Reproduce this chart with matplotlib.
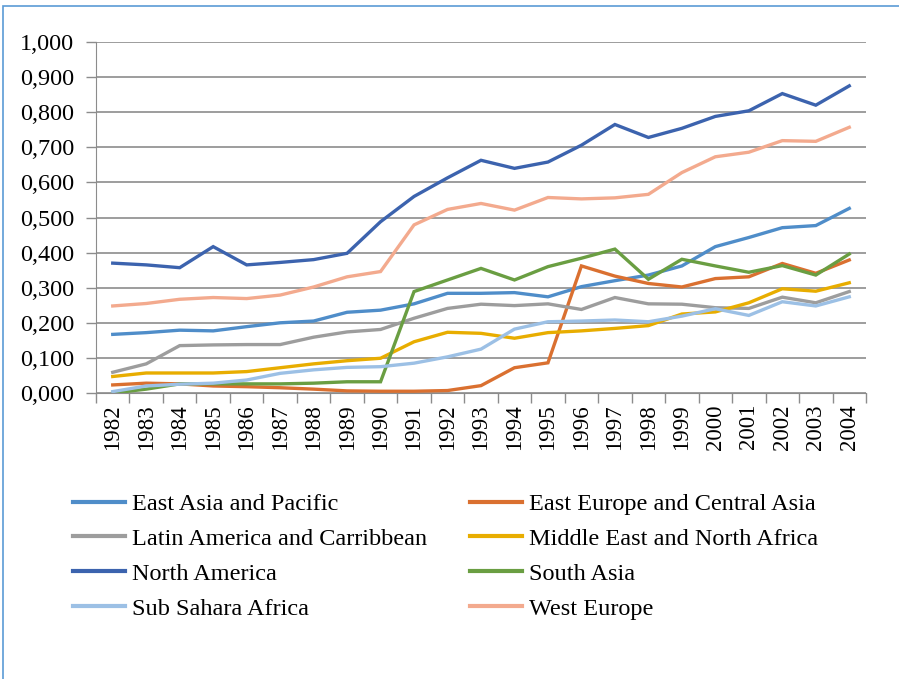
import matplotlib.pyplot as plt
import matplotlib.patches as mpatches
from matplotlib.ticker import FuncFormatter, FixedLocator
from matplotlib.lines import Line2D
import numpy as np

plt.rcParams['font.family'] = ['Liberation Serif', 'DejaVu Serif']

# data
years = list(range(1982, 2005))

east_asia = [0.167, 0.172, 0.179, 0.177, 0.189, 0.200, 0.205, 0.230, 0.236, 0.254, 0.284, 0.284,
             0.286, 0.274, 0.303, 0.320, 0.336, 0.362, 0.417, 0.443, 0.471, 0.477, 0.526]
east_europe = [0.023, 0.028, 0.026, 0.020, 0.018, 0.015, 0.011, 0.006, 0.005, 0.005, 0.007, 0.021,
               0.072, 0.086, 0.362, 0.333, 0.312, 0.302, 0.326, 0.331, 0.369, 0.341, 0.379]
latin_america = [0.059, 0.083, 0.135, 0.137, 0.138, 0.138, 0.159, 0.174, 0.181, 0.213, 0.241, 0.253,
                 0.249, 0.254, 0.238, 0.272, 0.254, 0.253, 0.243, 0.241, 0.273, 0.257, 0.289]
middle_east = [0.047, 0.057, 0.057, 0.057, 0.061, 0.072, 0.083, 0.092, 0.099, 0.146, 0.173, 0.170,
               0.156, 0.172, 0.177, 0.184, 0.192, 0.225, 0.231, 0.257, 0.297, 0.290, 0.314]
north_america = [0.370, 0.365, 0.357, 0.417, 0.365, 0.372, 0.380, 0.398, 0.488, 0.560, 0.613, 0.663,
                 0.640, 0.658, 0.706, 0.765, 0.728, 0.754, 0.788, 0.804, 0.853, 0.820, 0.875]
south_asia = [0.000, 0.011, 0.026, 0.026, 0.026, 0.026, 0.028, 0.032, 0.032, 0.289, 0.322, 0.355,
              0.322, 0.360, 0.384, 0.410, 0.324, 0.381, 0.362, 0.344, 0.363, 0.336, 0.396]
sub_sahara = [0.004, 0.020, 0.025, 0.028, 0.037, 0.056, 0.066, 0.073, 0.075, 0.085, 0.103, 0.125,
              0.182, 0.203, 0.205, 0.208, 0.203, 0.219, 0.240, 0.221, 0.260, 0.248, 0.274]
west_europe = [0.248, 0.255, 0.267, 0.272, 0.269, 0.279, 0.302, 0.331, 0.346, 0.479, 0.523, 0.540,
               0.521, 0.557, 0.553, 0.556, 0.566, 0.628, 0.673, 0.686, 0.719, 0.717, 0.757]

series = [
    ("East Asia and Pacific", east_asia, "#4f8dc9"),
    ("East Europe and Central Asia", east_europe, "#da7030"),
    ("Latin America and Carribbean", latin_america, "#9d9d9d"),
    ("Middle East and North Africa", middle_east, "#e8ad00"),
    ("North America", north_america, "#3c63ae"),
    ("South Asia", south_asia, "#6a9e42"),
    ("Sub Sahara Africa", sub_sahara, "#9cc0e5"),
    ("West Europe", west_europe, "#f3aa8e"),
]

fig = plt.figure(figsize=(8.99, 6.79), dpi=100)

# blue frame of the chart object (runs off the right and bottom edge)
fig.patches.append(mpatches.Rectangle((3 / 899, -0.1), 1.2, 1 - 6 / 679 + 0.1,
                                      transform=fig.transFigure, fill=False,
                                      edgecolor="#5b9bd5", linewidth=1.2))

ax = fig.add_axes([96 / 899, 1 - 393 / 679, 770 / 899, 351 / 679])
x = np.arange(len(years))
for name, vals, col in series:
    ax.plot(x, vals, color=col, linewidth=2.4, solid_joinstyle="miter", label=name)

ax.set_xlim(-0.5, len(years) - 0.5)
ax.set_ylim(0, 1.0)
ax.set_yticks(np.arange(0, 1.01, 0.1))
ax.yaxis.set_major_formatter(FuncFormatter(lambda v, p: f"{v:.3f}".replace(".", ",")))
ax.set_xticks(x)
ax.set_xticklabels([str(y) for y in years], rotation=90)
ax.xaxis.set_minor_locator(FixedLocator(np.arange(-0.5, len(years), 1)))
ax.tick_params(axis="x", which="major", length=0, labelsize=16.5, pad=8)
ax.tick_params(axis="x", which="minor", length=7, color="#8c8c8c", width=1)
ax.tick_params(axis="y", length=7, color="#8c8c8c", width=1, labelsize=17.5, pad=8.5)
ax.grid(axis="y", color="#8c8c8c", linewidth=1.2)
ax.set_axisbelow(True)
for s in ["top", "right"]:
    ax.spines[s].set_visible(False)
ax.spines["left"].set_color("#8c8c8c")
ax.spines["bottom"].set_color("#8c8c8c")

# legend in two columns, row-wise order like the original
def handles_for(items):
    return [Line2D([0], [0], color=c, linewidth=3) for _, _, c in items]

left_items = series[0::2]
right_items = series[1::2]
kw = dict(frameon=False, fontsize=17.5, handlelength=2.15, handletextpad=0.28,
          labelspacing=0.53, borderaxespad=0, borderpad=0, loc="upper left")
fig.legend(handles_for(left_items), [n for n, _, _ in left_items],
           bbox_to_anchor=(73 / 899, 1 - 493 / 679), **kw)
fig.legend(handles_for(right_items), [n for n, _, _ in right_items],
           bbox_to_anchor=(470 / 899, 1 - 493 / 679), **kw)

fig.savefig("out.png", dpi=100)
